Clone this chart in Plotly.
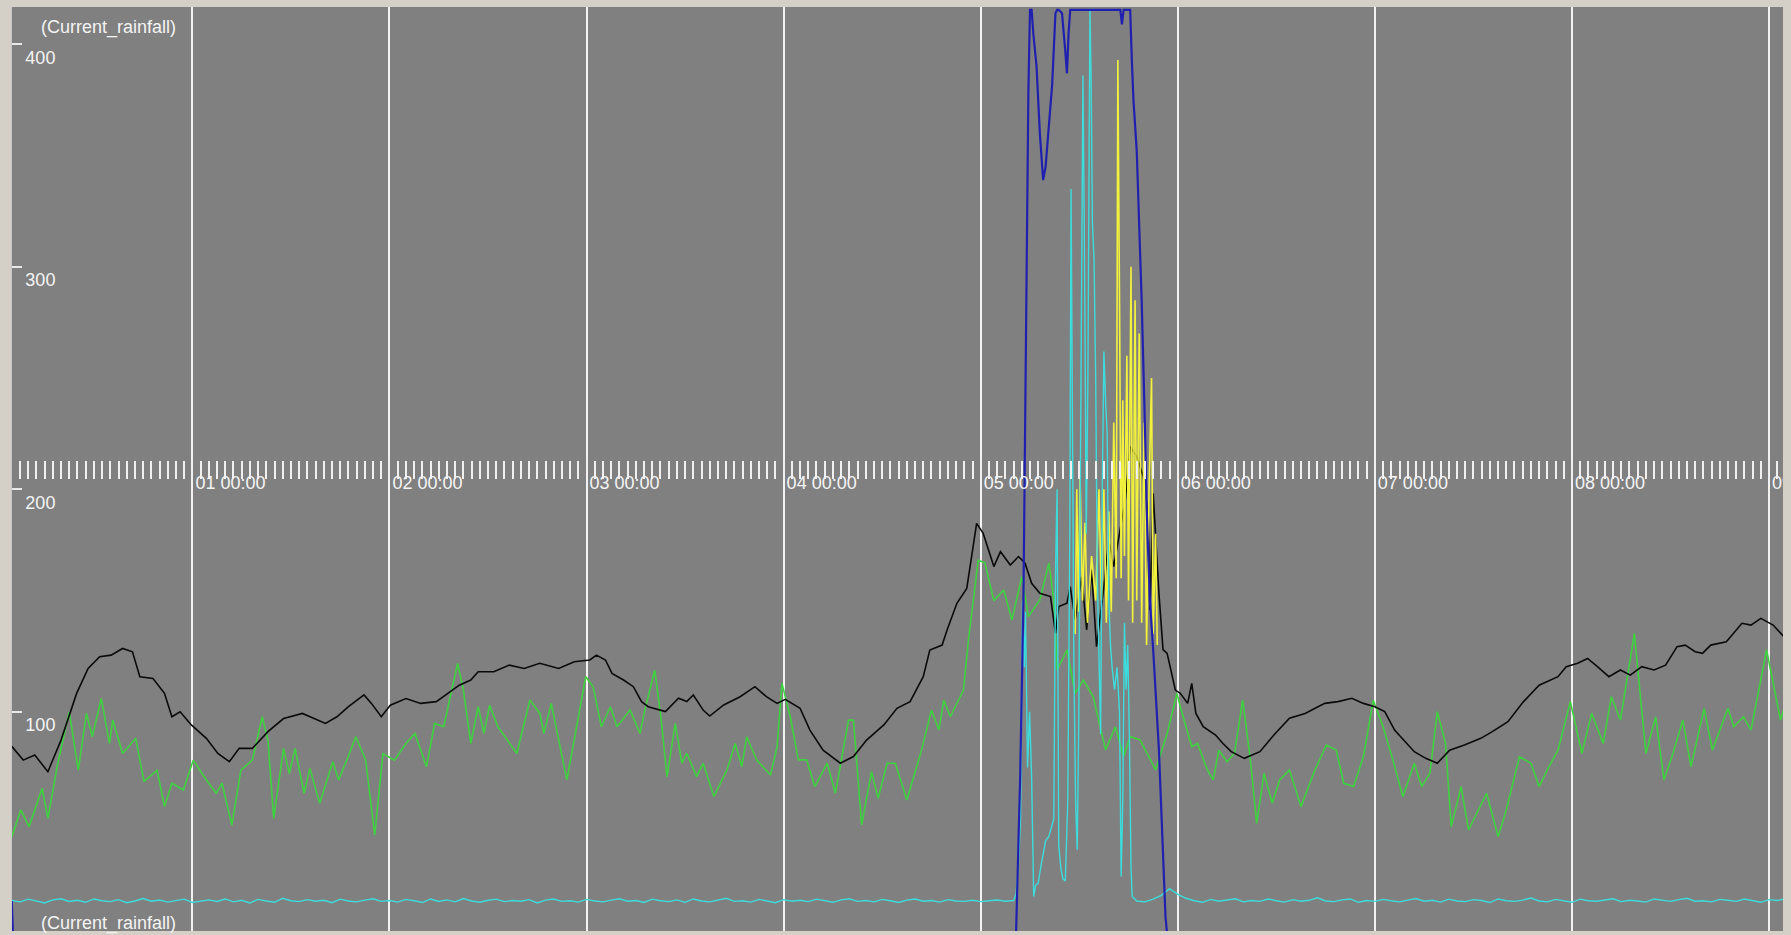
import pandas as pd
import plotly.graph_objects as go

# Time axis: hours counted from day "00 00:00"
START = pd.Timestamp("2009-12-31 00:00")

# ---- black series (hours, value) ----
black_hours = [2.0, 3.4, 4.8, 6.4, 8.0, 9.9, 11.3, 12.7, 14.1, 15.5, 16.7, 17.6, 19.2, 20.6, 21.5, 22.5,
               23.9, 25.7, 27.1, 28.5, 29.7, 31.3, 33.2, 35.1, 37.4, 38.8, 40.2, 41.6, 43.0, 44.9, 45.8,
               47.0, 48.1, 50.0, 51.8, 53.7, 55.1, 56.5, 57.9, 58.8, 60.7, 62.6, 64.4, 66.3, 68.6, 70.5,
               72.4, 73.2, 74.3, 75.1, 76.5, 77.7, 78.7, 79.5, 81.6, 83.2, 84.2, 85.0, 86.2, 87.0, 88.7,
               90.7, 92.5, 93.9, 95.2, 96.2, 98.0, 99.2, 100.8, 102.9, 104.5, 106.1, 108.2, 109.8, 111.4,
               113.0, 113.8, 115.3, 115.9, 117.1, 118.3, 118.9, 119.5, 120.3, 121.0, 121.6, 122.4, 123.6,
               124.6, 125.4, 126.2, 127.2, 128.5, 129.1, 129.5, 130.5, 130.9, 131.5, 132.3, 132.9, 133.5,
               134.1, 135.0, 135.6, 136.2, 137.0, 137.6, 138.2, 139.0, 139.8, 140.4, 140.6, 141.0, 141.7,
               142.2, 142.7, 143.7, 144.3, 145.2, 145.7, 146.2, 147.1, 148.6, 149.5, 150.5, 152.1, 154.0,
               155.7, 157.6, 159.5, 161.9, 163.5, 165.2, 166.6, 168.0, 169.2, 170.4, 172.8, 174.2, 175.6,
               177.1, 178.9, 180.9, 182.3, 184.2, 186.1, 188.0, 190.3, 191.3, 192.7, 193.9, 195.1, 196.5,
               197.9, 199.1, 200.5, 202.0, 203.4, 204.8, 205.8, 207.0, 207.9, 208.9, 210.8, 212.7, 213.8,
               215.0, 216.5, 217.8]
black_values = [84.5, 78.3, 80.6, 73.1, 87.3, 108.3, 119.5, 124.8, 125.5, 128.5, 127.0, 115.8, 115.0, 108.3,
                97.8, 100.0, 94.0, 88.1, 81.3, 77.6, 83.6, 83.6, 91.1, 97.0, 99.3, 97.0, 94.8, 97.8, 102.3,
                107.6, 103.8, 97.8, 103.0, 106.0, 103.8, 104.6, 108.3, 112.0, 114.3, 118.0, 118.0, 121.0,
                119.5, 121.8, 119.5, 122.5, 123.3, 125.5, 123.3, 117.3, 114.3, 111.3, 104.6, 102.3, 100.1,
                106.1, 104.6, 107.6, 100.8, 98.1, 103.1, 106.8, 111.3, 106.8, 103.8, 105.6, 101.6, 91.8,
                82.8, 76.9, 79.9, 87.3, 94.1, 101.6, 104.6, 115.8, 127.8, 130.0, 136.8, 148.8, 155.5, 170.0,
                184.7, 180.2, 172.0, 165.3, 172.0, 166.0, 169.8, 166.8, 157.8, 153.3, 151.8, 135.3, 147.3,
                148.8, 156.3, 141.3, 160.8, 136.8, 163.8, 129.3, 156.3, 177.2, 165.3, 183.2, 195.2, 219.2,
                214.7, 205.7, 187.7, 145.8, 198.2, 153.3, 128.0, 126.3, 109.8, 108.3, 103.8, 112.8, 99.3,
                93.3, 89.6, 85.8, 82.1, 79.1, 82.1, 89.6, 97.1, 99.3, 103.8, 104.6, 106.1, 103.8, 102.3,
                100.1, 91.8, 82.1, 79.1, 76.9, 82.8, 85.1, 88.1, 91.1, 95.6, 104.6, 112.0, 115.8, 120.3,
                121.8, 124.0, 120.3, 115.8, 118.8, 116.5, 120.3, 118.8, 121.0, 129.3, 130.0, 127.0, 126.3,
                130.0, 131.5, 139.8, 139.0, 142.0, 139.0, 133.8]

# ---- green series ----
green_hours = [2.0, 3.1, 4.1, 5.7, 6.4, 7.6, 9.0, 10.1, 11.1, 11.8, 12.9, 13.9, 14.3, 15.5, 17.1, 18.1,
               19.7, 20.6, 21.5, 22.9, 24.1, 25.7, 26.9, 27.6, 28.8, 29.9, 31.3, 32.5, 33.2, 33.9, 35.1,
               35.8, 36.5, 37.6, 38.3, 39.5, 41.1, 41.8, 42.8, 43.9, 45.1, 46.2, 47.2, 48.6, 50.0, 51.1,
               52.5, 53.5, 54.6, 56.3, 57.0, 57.9, 58.8, 59.5, 60.2, 61.2, 63.5, 65.1, 66.3, 66.8, 67.7,
               69.6, 71.9, 72.8, 73.8, 74.9, 75.7, 77.3, 78.5, 79.1, 80.3, 81.0, 81.8, 82.8, 83.6, 84.2,
               85.4, 86.2, 87.5, 89.1, 90.1, 90.9, 91.5, 92.7, 94.4, 95.2, 95.8, 96.8, 97.8, 98.8, 99.8,
               101.3, 102.3, 103.3, 103.9, 104.5, 105.5, 106.7, 107.5, 108.6, 109.6, 111.0, 112.8, 114.0,
               114.9, 115.5, 116.3, 117.9, 118.5, 119.7, 120.5, 121.6, 122.8, 123.8, 125.0, 125.8, 127.2,
               128.3, 128.9, 129.3, 130.5, 131.5, 132.5, 133.7, 135.2, 136.4, 137.4, 138.2, 139.4, 141.3,
               142.7, 143.9, 144.3, 145.7, 146.4, 147.6, 148.3, 149.0, 150.0, 150.9, 151.9, 152.8, 153.6,
               154.5, 155.5, 156.4, 157.6, 159.0, 160.7, 162.1, 163.3, 164.2, 165.4, 166.6, 167.8, 169.0,
               170.2, 171.4, 172.8, 173.7, 174.7, 175.6, 176.6, 177.3, 178.5, 179.4, 180.4, 181.6, 183.0,
               184.0, 185.6, 187.0, 188.0, 189.2, 190.3, 191.8, 193.2, 194.4, 195.8, 196.8, 197.9, 199.6,
               201.0, 202.2, 203.2, 204.3, 205.5, 206.5, 208.1, 209.1, 211.0, 211.7, 212.9, 213.8, 215.7,
               217.4, 217.9]
green_values = [43.9, 55.9, 48.4, 65.6, 52.1, 76.8, 100.0, 73.8, 99.3, 88.8, 106.0, 85.8, 96.3, 81.3, 88.1,
                68.6, 73.8, 57.4, 67.9, 64.9, 78.3, 69.4, 63.4, 67.9, 49.1, 73.8, 78.3, 97.8, 87.3, 52.1,
                83.6, 72.3, 83.6, 63.4, 74.6, 58.9, 77.6, 69.4, 78.3, 88.8, 78.3, 44.6, 81.3, 78.3, 85.8,
                90.3, 75.3, 94.8, 93.3, 121.8, 109.8, 85.8, 102.3, 90.3, 103.0, 93.3, 81.3, 105.3, 99.3,
                90.3, 103.8, 69.4, 115.8, 111.3, 93.3, 102.3, 93.3, 100.8, 90.3, 100.8, 118.8, 99.3, 70.9,
                94.8, 76.9, 81.4, 70.9, 76.9, 61.9, 73.9, 85.8, 75.4, 88.8, 78.4, 71.6, 84.3, 112.8, 97.8,
                78.4, 78.4, 66.4, 76.9, 63.4, 84.3, 96.3, 96.3, 49.2, 73.1, 61.1, 76.9, 76.9, 60.4, 82.9,
                100.8, 91.8, 105.3, 97.8, 109.8, 132.3, 168.2, 167.0, 150.0, 154.8, 141.3, 160.8, 142.8,
                150.3, 166.8, 150.3, 118.8, 127.8, 108.3, 114.3, 106.8, 82.9, 93.3, 79.9, 88.9, 87.4, 73.9,
                90.3, 108.3, 102.3, 84.3, 85.8, 73.9, 69.4, 82.8, 77.6, 81.3, 105.3, 79.8, 49.9, 72.4, 58.9,
                69.4, 73.9, 57.4, 73.9, 85.1, 82.8, 67.9, 66.4, 79.8, 105.3, 93.3, 78.3, 61.9, 76.9, 66.4,
                72.4, 100.1, 85.8, 48.4, 66.4, 46.9, 54.4, 63.4, 43.9, 55.9, 79.8, 76.9, 66.4, 75.4, 82.8,
                104.6, 81.3, 99.3, 85.8, 106.8, 96.3, 135.3, 81.3, 97.8, 69.4, 81.3, 96.3, 75.4, 101.6,
                82.8, 101.6, 93.3, 97.8, 91.8, 127.8, 96.3, 102.3]

# ---- cyan series: hourly baseline before/after, dense samples during the storm ----
cyan_pre_values = [15.2, 14.6, 15.8, 14.9, 14.1, 15.5, 16.0, 14.8, 15.3, 14.4, 15.9, 15.1, 14.7, 15.6, 14.2,
                   15.0, 16.1, 14.9, 15.4, 14.5, 15.2, 15.8, 14.3, 15.0, 15.5, 14.8, 15.9, 14.6, 15.3, 14.1,
                   15.7, 15.0, 14.4, 16.2, 15.1, 14.7, 15.6, 14.9, 15.3, 14.2, 15.8, 15.0, 14.6, 15.4, 16.0,
                   14.8, 15.2, 14.5, 15.7, 15.1, 14.3, 15.9, 14.8, 15.5, 14.6, 16.1, 15.0, 14.4, 15.3, 15.8,
                   14.7, 15.2, 14.9, 15.6, 14.1, 15.4, 15.9, 14.8, 15.1, 14.5, 15.7, 15.0, 14.6, 15.4, 16.0,
                   14.9, 15.2, 14.3, 15.8, 15.1, 14.7, 15.5, 14.4, 15.9, 15.0, 14.6, 15.3, 16.2, 14.8, 15.1,
                   14.5, 15.7, 15.0, 14.2, 15.6, 14.9, 15.3, 14.7, 15.8, 15.0, 14.4, 15.5, 16.0, 14.8, 15.2,
                   14.6, 15.7, 15.1, 14.3, 15.4, 15.9, 14.9, 15.2, 14.5, 15.6, 15.0, 14.8, 15.3, 14.7, 15.1,
                   15.4, 14.9, 15.2]
cyan_pre_start = 2
cyan_event_hours = [124.3, 124.6, 124.85, 125.1, 125.3, 125.45, 125.7, 125.95, 126.2, 126.45, 126.7, 127.0,
                    127.3, 127.6, 127.9, 128.3, 128.6, 128.9, 129.1, 129.3, 129.5, 129.75, 130.0, 130.3,
                    130.6, 130.85, 131.0, 131.15, 131.35, 131.55, 131.75, 131.95, 132.2, 132.45, 132.65,
                    132.85, 133.05, 133.3, 133.45, 133.6, 133.8, 134.0, 134.2, 134.4, 134.6, 134.8, 135.0,
                    135.2, 135.4, 135.6, 135.8, 136.0, 136.3, 136.6, 136.9, 137.1, 137.3, 137.5, 137.7,
                    137.9, 138.1, 138.3, 138.45]
cyan_event_values = [18, 32, 52, 150, 120, 145, 75, 100, 70, 17, 22, 23, 30, 36, 42, 44, 48, 52, 160, 200,
                     40, 30, 25, 24, 60, 180, 335, 250, 120, 60, 38, 100, 260, 386, 300, 180, 250, 416,
                     383, 320, 303, 250, 160, 120, 90, 200, 262, 240, 225, 150, 130, 120, 110, 120, 100,
                     26, 60, 140, 110, 130, 90, 30, 17]
cyan_post_values = [15.0, 14.6, 15.8, 17.5, 20.5, 18.0, 16.2, 15.1, 14.4, 15.7, 14.9, 15.3, 16.0, 14.6,
                    15.2, 14.8, 15.9, 15.1, 14.5, 15.6, 14.9, 15.3, 16.4, 15.0, 14.7, 15.5, 15.9, 14.4,
                    15.2, 14.8, 15.7, 15.1, 14.6, 15.4, 16.1, 14.9, 15.3, 14.5, 15.8, 15.0, 14.7, 15.6,
                    15.2, 14.3, 15.9, 15.1, 14.8, 15.4, 16.3, 15.0, 14.6, 15.7, 15.2, 14.4, 15.8, 15.1,
                    14.9, 15.5, 16.0, 14.7, 15.3, 15.0, 14.5, 15.9, 15.2, 14.8, 15.6, 16.2, 14.9, 15.1,
                    14.6, 15.7, 15.3, 14.8, 15.9, 15.0, 14.4, 15.6, 15.2, 16.0]
cyan_post_start = 139

# ---- yellow series (only during the storm) ----
yellow_hours = [131.5, 131.7, 131.9, 132.1, 132.4, 132.7, 133.0, 133.5, 134.0, 134.4, 134.7, 135.0, 135.3,
                135.6, 135.9, 136.2, 136.5, 136.7, 136.9, 137.1, 137.3, 137.5, 137.8, 138.0, 138.3, 138.5,
                138.8, 139.0, 139.3, 139.6, 139.9, 140.2, 140.5, 140.8, 141.0, 141.3, 141.5]
yellow_values = [135, 200, 145, 205, 150, 185, 140, 170, 150, 200, 150, 200, 140, 190, 145, 230, 160, 393,
                 285, 160, 240, 170, 260, 150, 300, 140, 285, 150, 270, 140, 230, 130, 200, 250, 135, 180,
                 130]

# ---- dark blue series ----
blue_hours = [2.0, 2.15, 124.3, 124.8, 125.2, 125.5, 125.8, 126.0, 126.2, 126.4, 126.8, 127.2, 127.6, 127.9,
              128.3, 128.7, 129.1, 129.3, 129.5, 129.9, 130.3, 130.5, 130.7, 130.9, 137.0, 137.2, 137.4,
              138.2, 138.4, 138.6, 139.0, 139.2, 139.6, 140.0, 140.2, 140.6, 141.0, 141.7, 142.1, 142.5,
              142.7, 218.0]
blue_values = [15, 0, 0, 70, 150, 260, 378, 415.5, 415.5, 405, 390, 360, 339, 345, 363, 382, 414, 415.5,
               415.5, 414, 397, 387, 405, 415.5, 415.5, 409, 415.5, 415.5, 393, 375, 352, 331, 285, 228,
               192, 150, 128, 83, 41, 8, 0, 0]

# time-axis label format ("01 00:00") and value-axis ticks
day_label_format = "%d %H:%M"
y_tick_values = [100, 200, 300, 400]
axis_caption = "(Current_rainfall)"


def to_time(hours):
    return START + pd.to_timedelta(pd.Series(hours, dtype=float), unit="h")


cyan_hours = (list(range(cyan_pre_start, cyan_pre_start + len(cyan_pre_values)))
              + cyan_event_hours
              + list(range(cyan_post_start, cyan_post_start + len(cyan_post_values))))
cyan_values = cyan_pre_values + cyan_event_values + cyan_post_values

fig = go.Figure()
fig.add_trace(go.Scatter(x=to_time(green_hours), y=green_values, mode="lines",
                         line=dict(color="#3fd23f", width=1.6), name="green"))
fig.add_trace(go.Scatter(x=to_time(black_hours), y=black_values, mode="lines",
                         line=dict(color="#0a0a0a", width=1.6), name="black"))
fig.add_trace(go.Scatter(x=to_time(yellow_hours), y=yellow_values, mode="lines",
                         line=dict(color="#f2f23c", width=1.6), name="yellow"))
fig.add_trace(go.Scatter(x=to_time(cyan_hours), y=cyan_values, mode="lines",
                         line=dict(color="#3cdcdc", width=1.4), name="cyan"))
fig.add_trace(go.Scatter(x=to_time(blue_hours), y=blue_values, mode="lines",
                         line=dict(color="#2020b0", width=2.2), name="blue"))

x0 = START + pd.Timedelta(hours=2.03)
x1 = START + pd.Timedelta(hours=217.7)

fig.update_layout(
    width=1791, height=935,
    margin=dict(l=12, r=8, t=7, b=4, autoexpand=False),
    paper_bgcolor="#d4d0c8",
    plot_bgcolor="#808080",
    showlegend=False,
    font=dict(family="Liberation Sans, Arial, sans-serif", size=18, color="#f4f4f4"),
    xaxis=dict(
        range=[x0, x1],
        tickmode="linear", tick0=START, dtick=86400000, tickformat=day_label_format,
        showgrid=True, gridcolor="#f2f2f2", gridwidth=1.5,
        zeroline=False, showline=False, automargin=False,
        anchor="free", position=0.5097, side="bottom",
        ticks="outside", ticklen=18, tickwidth=1.5, tickcolor="#f0f0f0",
        minor=dict(tick0=START, dtick=3600000, ticks="outside", ticklen=18, tickwidth=1.5,
                   tickcolor="#f0f0f0", showgrid=False),
        ticklabelshift=38, ticklabelstandoff=-12, ticklabeloverflow="allow",
        tickfont=dict(size=18, color="#f4f4f4"),
    ),
    yaxis=dict(
        range=[1.5, 416.8],
        tickvals=y_tick_values,
        showgrid=False, zeroline=False, automargin=False,
        showline=True, linecolor="#c8c8c8", linewidth=1,
        ticks="inside", ticklen=10, tickwidth=1.5, tickcolor="#e8e8e8",
        ticklabelposition="outside", ticklabelshift=13, ticklabelstandoff=-48,
        ticklabeloverflow="allow",
        tickfont=dict(size=18, color="#f4f4f4"),
    ),
)

fig.add_annotation(text=axis_caption, xref="paper", yref="paper", x=0.0155, y=1.0,
                   xanchor="left", yanchor="top", yshift=-8, showarrow=False,
                   font=dict(size=18, color="#f4f4f4"))
fig.add_annotation(text=axis_caption, xref="paper", yref="paper", x=0.0155, y=0.0,
                   xanchor="left", yanchor="bottom", yshift=-5, showarrow=False,
                   font=dict(size=18, color="#f4f4f4"))

# right-hand frame strip
fig.add_shape(type="rect", xref="paper", yref="paper", x0=1.0, x1=1.01, y0=-0.01, y1=1.01,
              fillcolor="#d4d0c8", line=dict(width=0), layer="above")

fig.write_html("out.html")
